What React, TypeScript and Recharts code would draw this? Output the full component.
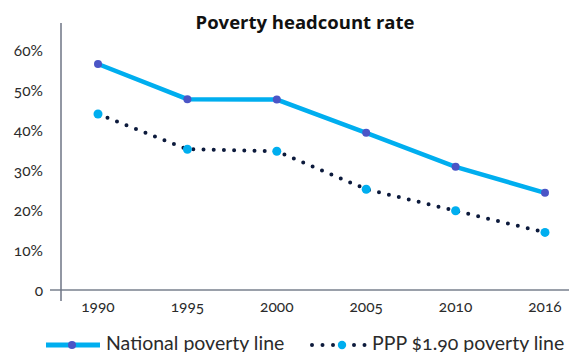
import React from 'react';
import { LineChart, Line, XAxis, YAxis, ReferenceLine, Legend } from 'recharts';

// Poverty headcount rate, share of population
const years = ['1990', '1995', '2000', '2005', '2010', '2016'];
const nationalLine = [0.565, 0.477, 0.476, 0.393, 0.308, 0.243];
const pppLine = [0.44, 0.352, 0.347, 0.252, 0.198, 0.144];
const yTicks = [0, 0.1, 0.2, 0.3, 0.4, 0.5, 0.6];

const data = years.map((year, i) => ({
  year,
  national: nationalLine[i],
  ppp: pppLine[i],
}));

const FONT = 'Lato, "Open Sans", sans-serif';
const CYAN = '#00aeef';
const INDIGO = '#4b55c6';
const NAVY = '#0c1a3c';
const TEXT = '#2b2b2b';

const fmtPct = (v: number) => (v === 0 ? '0' : `${Math.round(v * 100)}%`);

// x axis drawn slightly past the y axis so both lines cross
const AxisBaseline = (p: any) => (
  <line x1={p.x1 - 11} y1={p.y1} x2={p.x2} y2={p.y2} stroke="#9aa0aa" strokeWidth={2} />
);

const LegendContent = () => (
  <div style={{ position: 'relative', width: 569, height: 31, fontFamily: FONT, color: TEXT }}>
    <svg width={60} height={12} style={{ position: 'absolute', left: 44, top: 18 }}>
      <line x1={2} y1={6} x2={56} y2={6} stroke={CYAN} strokeWidth={5} />
      <circle cx={28} cy={6} r={4} fill={INDIGO} />
    </svg>
    <span style={{ position: 'absolute', left: 106, top: 9, fontSize: 19.5, whiteSpace: 'nowrap', lineHeight: '26px' }}>
      National poverty line
    </span>
    <svg width={62} height={12} style={{ position: 'absolute', left: 308, top: 18 }}>
      <line x1={4} y1={6} x2={59} y2={6} stroke={NAVY} strokeWidth={4} strokeDasharray="0 10.5" strokeLinecap="round" />
      <circle cx={34} cy={6} r={4.2} fill={CYAN} />
    </svg>
    <span style={{ position: 'absolute', left: 372, top: 9, fontSize: 19.5, whiteSpace: 'nowrap', lineHeight: '26px' }}>
      PPP $1.90 poverty line
    </span>
  </div>
);

export default function App() {
  return (
    <div style={{ position: 'absolute', left: 0, top: 0, width: 569, height: 352, overflow: 'hidden', background: '#fff' }}>
      <div
        style={{
          position: 'absolute',
          left: 0,
          top: 9,
          width: 610,
          textAlign: 'center',
          fontFamily: '"Open Sans", Lato, sans-serif',
          fontWeight: 700,
          fontSize: 18.5,
          lineHeight: '26px',
          color: '#111',
        }}
      >
        Poverty headcount rate
      </div>
      <LineChart
        width={569}
        height={352}
        data={data}
        margin={{ top: 23, right: 0, bottom: 0, left: 0 }}
        style={{ fontFamily: FONT, fontVariantNumeric: 'oldstyle-nums' }}
      >
        <XAxis
          dataKey="year"
          height={20}
          axisLine={false}
          tickLine={false}
          tickSize={0}
          tickMargin={0}
          padding={{ left: 37, right: 24 }}
          tick={{ fill: TEXT, fontSize: 15.5 }}
          interval={0}
        />
        <YAxis
          width={61}
          domain={[-0.0275, 0.6675]}
          ticks={yTicks}
          tickFormatter={fmtPct}
          axisLine={{ stroke: '#6e7585', strokeWidth: 1.5 }}
          tickLine={false}
          tickSize={0}
          tickMargin={18}
          tick={{ fill: TEXT, fontSize: 15.5 }}
          allowDataOverflow
        />
        <ReferenceLine y={0} shape={AxisBaseline} />
        <Line
          dataKey="national"
          stroke={CYAN}
          strokeWidth={4.5}
          dot={{ r: 4, fill: INDIGO, stroke: 'none' }}
          activeDot={false}
          isAnimationActive={false}
        />
        <Line
          dataKey="ppp"
          stroke={NAVY}
          strokeWidth={4}
          strokeDasharray="0 10.2"
          strokeLinecap="round"
          dot={{ r: 4.5, fill: CYAN, stroke: 'none', strokeDasharray: '' }}
          activeDot={false}
          isAnimationActive={false}
        />
        <Legend verticalAlign="bottom" height={31} content={LegendContent} wrapperStyle={{ left: 0, bottom: 0, width: 569 }} />
      </LineChart>
    </div>
  );
}
